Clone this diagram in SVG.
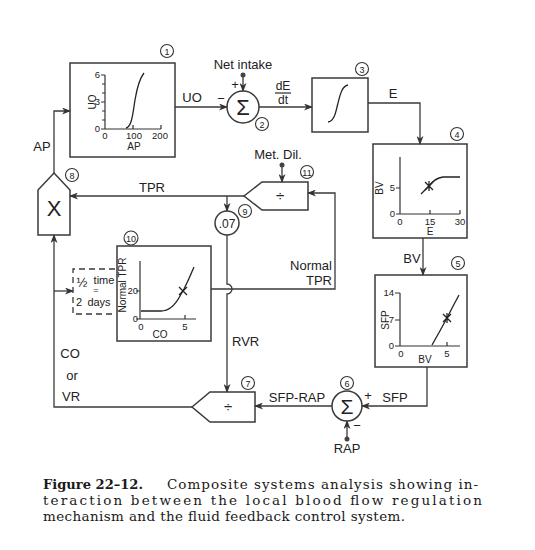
<svg xmlns="http://www.w3.org/2000/svg" width="535" height="550" viewBox="0 0 535 550">
<defs>
<marker id="ah" markerWidth="9" markerHeight="7" refX="8" refY="3.5" orient="auto" markerUnits="userSpaceOnUse">
<path d="M0,0 L9,3.5 L0,7 L2.5,3.5 z" fill="#333"/>
</marker>
<style>
.ln{fill:none;stroke:#3a3a3a;stroke-width:1.3}
.bx{fill:none;stroke:#3a3a3a;stroke-width:1.5}
.ax{fill:none;stroke:#333;stroke-width:1.2}
.cv{fill:none;stroke:#222;stroke-width:1.3}
.t{font-family:"Liberation Sans",Arial,sans-serif;font-size:13px;fill:#222}
.s{font-family:"Liberation Sans",Arial,sans-serif;font-size:9.5px;fill:#222}
.n{font-family:"Liberation Sans",Arial,sans-serif;font-size:9px;fill:#222;text-anchor:middle}
.nc{fill:none;stroke:#333;stroke-width:1.1}
.cap{font-family:"DejaVu Serif","Liberation Serif",serif;font-size:13.5px;fill:#1a1a1a}
.m{text-anchor:middle}
.e{text-anchor:end}
.dot{fill:#444}
</style>
</defs>
<rect width="535" height="550" fill="#fff"/>

<g id="connectors">
<path class="ln" d="M175,107 L227,107" marker-end="url(#ah)"/>
<path class="ln" d="M259,107 L312,107" marker-end="url(#ah)"/>
<path class="ln" d="M368,103 L420,103 L420,144" marker-end="url(#ah)"/>
<path class="ln" d="M423,238 L423,275" marker-end="url(#ah)"/>
<path class="ln" d="M427,367 L427,406 L362,406" marker-end="url(#ah)"/>
<path class="ln" d="M332,406 L255,406" marker-end="url(#ah)"/>
<path class="ln" d="M192,407 L54,407 L54,235" marker-end="url(#ah)"/>
<path class="ln" d="M54,291 L73,291" marker-end="url(#ah)"/>
<path class="ln" d="M54,173 L54,111 L70,111" marker-end="url(#ah)"/>
<path class="ln" d="M243,76 L243,91" marker-end="url(#ah)"/>
<circle class="dot" cx="243" cy="75" r="2.5"/>
<path class="ln" d="M347,438 L347,421" marker-end="url(#ah)"/>
<circle class="dot" cx="347" cy="439" r="2.5"/>
<path class="ln" d="M282,166 L282,182" marker-end="url(#ah)"/>
<circle class="dot" cx="282" cy="165" r="2.5"/>
<path class="ln" d="M244,196 L70,196" marker-end="url(#ah)"/>
<path class="ln" d="M227,196 L227,211" marker-end="url(#ah)"/>
<path class="ln" d="M227,235 L227,284 A5,5 0 0 1 227,294 L227,392" marker-end="url(#ah)"/>
<path class="ln" d="M211,289 L335,289 L335,193 L308,193" marker-end="url(#ah)"/>
</g>

<g id="node1">
<rect class="bx" x="70" y="63" width="105" height="94"/>
<path class="ax" d="M105,75 L105,129 L161,129 M101,75 L105,75 M102,84 L105,84 M102,93 L105,93 M101,102 L105,102 M102,111 L105,111 M102,120 L105,120 M101,129 L105,129 M133,129 L133,125 M161,129 L161,125"/>
<path class="cv" d="M126,128 C132,127 133,112 135,100 C137,88 140,78 144,73"/>
<text class="s e" x="100" y="78">6</text>
<text class="s e" x="100" y="105">3</text>
<text class="s e" x="100" y="132">0</text>
<text class="s m" x="105" y="139">0</text>
<text class="s m" x="134" y="139">100</text>
<text class="s m" x="160" y="139">200</text>
<text class="s m" x="134" y="150" style="font-size:10px">AP</text>
<text class="s m" transform="translate(96,102) rotate(-90)" style="font-size:10px">UO</text>
<circle class="nc" cx="167" cy="51" r="6.5"/><text class="n" x="167" y="54.5">1</text>
</g>

<g id="node2">
<circle class="bx" cx="243" cy="107" r="16"/>
<text class="t m" x="243" y="115" style="font-size:22px">Σ</text>
<text class="t m" x="243" y="69">Net intake</text>
<text class="t m" x="235" y="89">+</text>
<text class="t m" x="221" y="103">−</text>
<circle class="nc" cx="262" cy="124" r="6.5"/><text class="n" x="262" y="127.5">2</text>
</g>

<g id="node3">
<rect class="bx" x="312" y="78" width="56" height="54"/>
<path class="cv" d="M328,122 C335,121 336,110 338,103 C340,95 342,86 348,85"/>
<circle class="nc" cx="362" cy="69" r="6.5"/><text class="n" x="362" y="72.5">3</text>
</g>

<g id="labels-top">
<text class="t m" x="192" y="102">UO</text>
<text class="t m" x="283" y="90" style="font-size:12px">dE</text>
<path class="ln" d="M275,93 L291,93"/>
<text class="t m" x="283" y="104" style="font-size:12px">dt</text>
<text class="t m" x="393" y="98">E</text>
<text class="t m" x="412" y="263">BV</text>
<text class="t m" x="42" y="151">AP</text>
</g>

<g id="node4">
<rect class="bx" x="373" y="144" width="94" height="94"/>
<path class="ax" d="M400,157 L400,214 L460,214 M396,188 L400,188 M396,214 L400,214 M430,214 L430,210 M460,214 L460,210"/>
<path class="cv" d="M421,194 L429,186 Q435,178 443,177 L460,177"/>
<path class="cv" d="M425,182 L433,190 M433,182 L425,190 M429,181 L429,191"/>
<text class="s e" x="395" y="191">5</text>
<text class="s e" x="395" y="217">0</text>
<text class="s m" x="400" y="225">0</text>
<text class="s m" x="430" y="225">15</text>
<text class="s m" x="460" y="225">30</text>
<text class="s m" x="430" y="235" style="font-size:10px">E</text>
<text class="s m" transform="translate(383,188) rotate(-90)" style="font-size:10px">BV</text>
<circle class="nc" cx="457" cy="134" r="6.5"/><text class="n" x="457" y="137.5">4</text>
</g>

<g id="node5">
<rect class="bx" x="375" y="275" width="92" height="92"/>
<path class="ax" d="M400,293 L400,346 L460,346 M395,293 L400,293 M395,320 L400,320 M395,346 L400,346 M447,346 L447,342"/>
<path class="cv" d="M432,345 Q440,331 447,318 Q453,306 459,295"/>
<path class="cv" d="M443,314 L451,322 M451,314 L443,322 M447,313 L447,323"/>
<text class="s e" x="394" y="296">14</text>
<text class="s e" x="394" y="323">7</text>
<text class="s e" x="394" y="349">0</text>
<text class="s m" x="401" y="357">0</text>
<text class="s m" x="447" y="357">5</text>
<text class="s m" x="425" y="363" style="font-size:10px">BV</text>
<text class="s m" transform="translate(389,320) rotate(-90)" style="font-size:10px">SFP</text>
<circle class="nc" cx="458" cy="263" r="6.5"/><text class="n" x="458" y="266.5">5</text>
</g>

<g id="node6">
<circle class="bx" cx="347" cy="406" r="15"/>
<text class="t m" x="347" y="414" style="font-size:21px">Σ</text>
<text class="t m" x="368" y="400">+</text>
<text class="t m" x="357" y="430">−</text>
<text class="t m" x="395" y="402">SFP</text>
<text class="t m" x="297" y="402">SFP-RAP</text>
<text class="t m" x="347" y="453">RAP</text>
<circle class="nc" cx="347" cy="383" r="6.5"/><text class="n" x="347" y="386.5">6</text>
</g>

<g id="node7">
<path class="bx" d="M192,407 L210,392 L255,392 L255,422 L210,422 Z"/>
<text class="t m" x="228" y="412" style="font-size:15px">÷</text>
<circle class="nc" cx="248" cy="383" r="6.5"/><text class="n" x="248" y="386.5">7</text>
</g>

<g id="node8">
<path class="bx" d="M54,173 L70,190 L70,235 L38,235 L38,190 Z"/>
<text class="t m" x="54" y="216" style="font-size:22px;font-weight:300">X</text>
<circle class="nc" cx="72" cy="175" r="6.5"/><text class="n" x="72" y="178.5">8</text>
<text class="t m" x="70" y="358">CO</text>
<text class="t m" x="72" y="380">or</text>
<text class="t m" x="71" y="401">VR</text>
</g>

<g id="node9">
<circle class="bx" cx="227" cy="223" r="12"/>
<text class="t m" x="227" y="228" style="font-size:12px">.07</text>
<circle class="nc" cx="245" cy="211" r="6.5"/><text class="n" x="245" y="214.5">9</text>
<text class="t" x="232" y="346">RVR</text>
</g>

<g id="node10">
<rect class="bx" x="117" y="246" width="94" height="95"/>
<path class="ln" d="M115,269 L73,269 L73,314 L115,314" stroke-dasharray="6,4"/>
<text class="t m" x="82" y="287" style="font-size:13px">½</text>
<text class="t m" x="104" y="284" style="font-size:11px">time</text>
<text class="t m" x="96" y="293" style="font-size:9px">=</text>
<text class="t" x="76" y="306" style="font-size:11px">2</text>
<text class="t m" x="99" y="306" style="font-size:11px">days</text>
<path class="ax" d="M140,261 L140,319 L196,319 M136,291 L140,291 M136,319 L140,319 M185,319 L185,315"/>
<path class="cv" d="M141,311 L161,311 Q172,311 180,296 L184,289 Q189,279 194,267"/>
<path class="cv" d="M179,287 L187,295 M187,287 L179,295"/>
<text class="s e" x="138" y="294">20</text>
<text class="s e" x="138" y="322">0</text>
<text class="s m" x="141" y="330">0</text>
<text class="s m" x="185" y="330">5</text>
<text class="s m" x="160" y="338" style="font-size:10px">CO</text>
<text class="s m" transform="translate(126,285) rotate(-90)" style="font-size:10px">Normal TPR</text>
<circle class="nc" cx="131" cy="238" r="7"/><text class="n" x="131" y="241.5">10</text>
<text class="t e" x="332" y="270">Normal</text>
<text class="t e" x="332" y="285">TPR</text>
</g>

<g id="node11">
<path class="bx" d="M244,196 L262,182 L308,182 L308,210 L262,210 Z"/>
<text class="t m" x="280" y="201" style="font-size:15px">÷</text>
<text class="t m" x="278" y="159">Met. Dil.</text>
<circle class="nc" cx="307" cy="172" r="6.5"/><text class="n" x="307" y="175.5">11</text>
<text class="t m" x="152" y="192">TPR</text>
</g>

<g id="caption">
<text class="cap" x="43" y="489" textLength="100" lengthAdjust="spacingAndGlyphs" style="font-weight:bold">Figure 22–12.</text>
<text class="cap" x="167" y="489" textLength="311" lengthAdjust="spacing">Composite systems analysis showing in-</text>
<text class="cap" x="43" y="505" textLength="439" lengthAdjust="spacing">teraction between the local blood flow regulation</text>
<text class="cap" x="43" y="521" textLength="362" lengthAdjust="spacing">mechanism and the fluid feedback control system.</text>
</g>
</svg>
